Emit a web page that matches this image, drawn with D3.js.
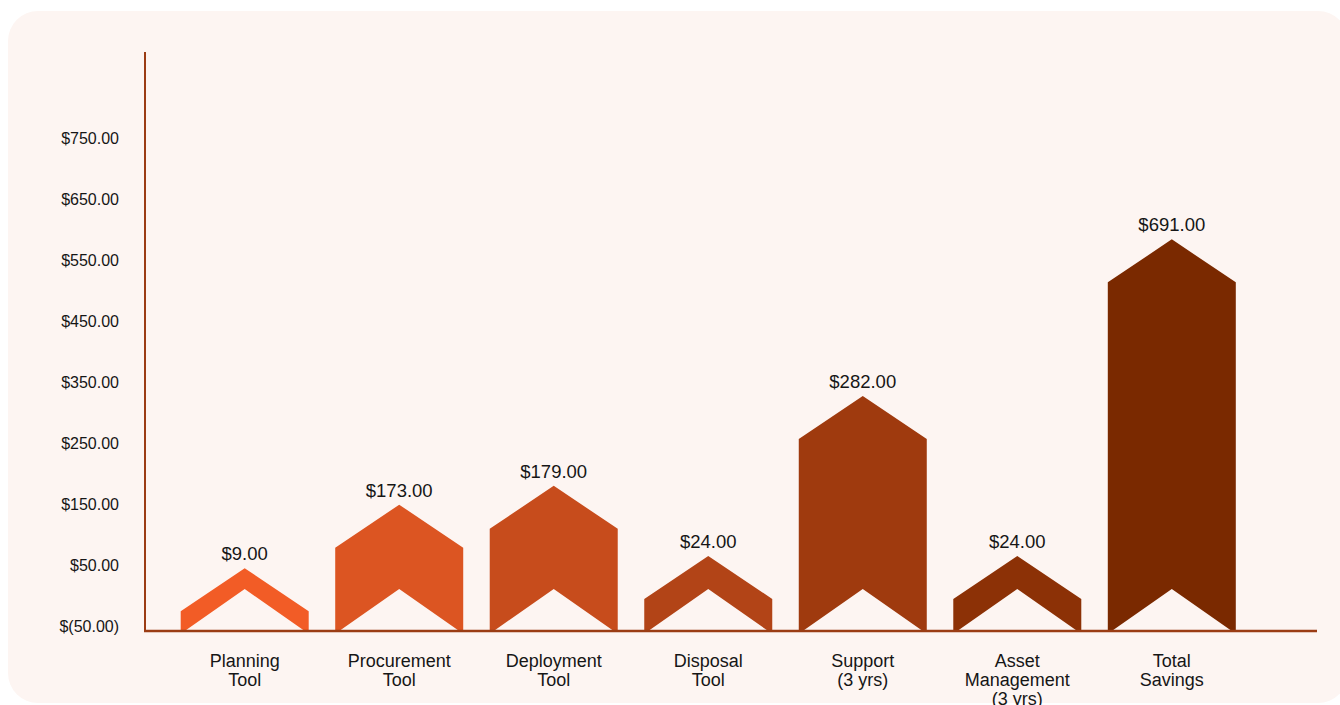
<!DOCTYPE html>
<html>
<head>
<meta charset="utf-8">
<script src="https://cdn.jsdelivr.net/npm/d3@7"></script>
<style>
    html, body { margin: 0; padding: 0; background: #ffffff; }
    svg text { font-family: "Liberation Sans", Arial, Helvetica, sans-serif; fill: #161616; }
</style>
</head>
<body>
<div id="chart"></div>
<script>
// Chart data
const categories = ["Planning\nTool", "Procurement\nTool", "Deployment\nTool", "Disposal\nTool",
    "Support\n(3 yrs)", "Asset\nManagement\n(3 yrs)", "Total\nSavings"];
const savings = [9, 173, 179, 24, 282, 24, 691];
// height of each chevron's tip, read against the y axis
const peakLevels = [46, 150, 181, 66, 328, 66, 585];
const yTicks = [-50, 50, 150, 250, 350, 450, 550, 650, 750];

const barColors = ["#f25c26", "#dc5522", "#c74c1c", "#b24417", "#9f3a0e", "#8c3106", "#7a2900"];
const axisColor = "#9b3c14";
const panelColor = "#fdf5f2";

function renderChart() {
    const width = 1340;
    const height = 705;
    const baseY = 631;
    const halfW = 64;
    const tipDepth = 43;
    const notchDepth = 42;

    const svg = d3.select('#chart').append('svg')
        .attr('width', width)
        .attr('height', height);

    // rounded background panel
    svg.append('rect')
        .attr('x', 8).attr('y', 11)
        .attr('width', 1340).attr('height', 692)
        .attr('rx', 30)
        .style('fill', panelColor);

    const x = d3.scalePoint()
        .domain(categories)
        .range([244.7, 1171.8]);

    const y = d3.scaleLinear()
        .domain([-50, 750])
        .range([626.7, 138.7]);

    const money = v => v < 0 ? '$(' + Math.abs(v).toFixed(2) + ')' : '$' + v.toFixed(2);

    // y axis labels
    const yAxis = svg.append('g')
        .attr('transform', 'translate(145,0)')
        .call(d3.axisLeft(y).tickValues(yTicks).tickSize(0).tickPadding(26).tickFormat(money));
    yAxis.select('.domain').remove();
    yAxis.selectAll('text')
        .style('font-size', '16px')
        .style('fill', '#161616')
        .style('font-family', '"Liberation Sans", Arial, sans-serif');

    // chevron bars
    const bars = categories.map((c, i) => ({ cat: c, value: savings[i], level: peakLevels[i], color: barColors[i] }));

    svg.selectAll('.chevron')
        .data(bars)
        .enter().append('path')
        .attr('class', 'chevron')
        .attr('d', d => {
            const cx = x(d.cat);
            const py = y(d.level);
            const sy = py + tipDepth;
            return 'M' + (cx - halfW) + ',' + baseY +
                'L' + (cx - halfW) + ',' + sy +
                'L' + cx + ',' + py +
                'L' + (cx + halfW) + ',' + sy +
                'L' + (cx + halfW) + ',' + baseY +
                'L' + (cx + halfW - 4) + ',' + baseY +
                'L' + cx + ',' + (baseY - notchDepth) +
                'L' + (cx - halfW + 4) + ',' + baseY + 'Z';
        })
        .style('fill', d => d.color);

    // value labels
    svg.selectAll('.value-label')
        .data(bars)
        .enter().append('text')
        .attr('class', 'value-label')
        .attr('x', d => x(d.cat))
        .attr('y', d => y(d.level) - 8)
        .attr('text-anchor', 'middle')
        .style('font-size', '18.5px')
        .text(d => money(d.value));

    // axis lines
    svg.append('line')
        .attr('x1', 145).attr('x2', 145)
        .attr('y1', 52).attr('y2', baseY)
        .style('stroke', axisColor).style('stroke-width', 2);
    svg.append('line')
        .attr('x1', 144).attr('x2', 1317)
        .attr('y1', baseY).attr('y2', baseY)
        .style('stroke', axisColor).style('stroke-width', 2.5);

    // category labels
    const catLabel = svg.selectAll('.cat-label')
        .data(categories)
        .enter().append('text')
        .attr('class', 'cat-label')
        .attr('text-anchor', 'middle')
        .style('font-size', '18px')
        .attr('transform', d => 'translate(' + x(d) + ',667)');

    catLabel.selectAll('tspan')
        .data(d => d.split('\n'))
        .enter().append('tspan')
        .attr('x', 0)
        .attr('y', (d, i) => i * 19)
        .text(d => d);
}

renderChart();
</script>
</body>
</html>
